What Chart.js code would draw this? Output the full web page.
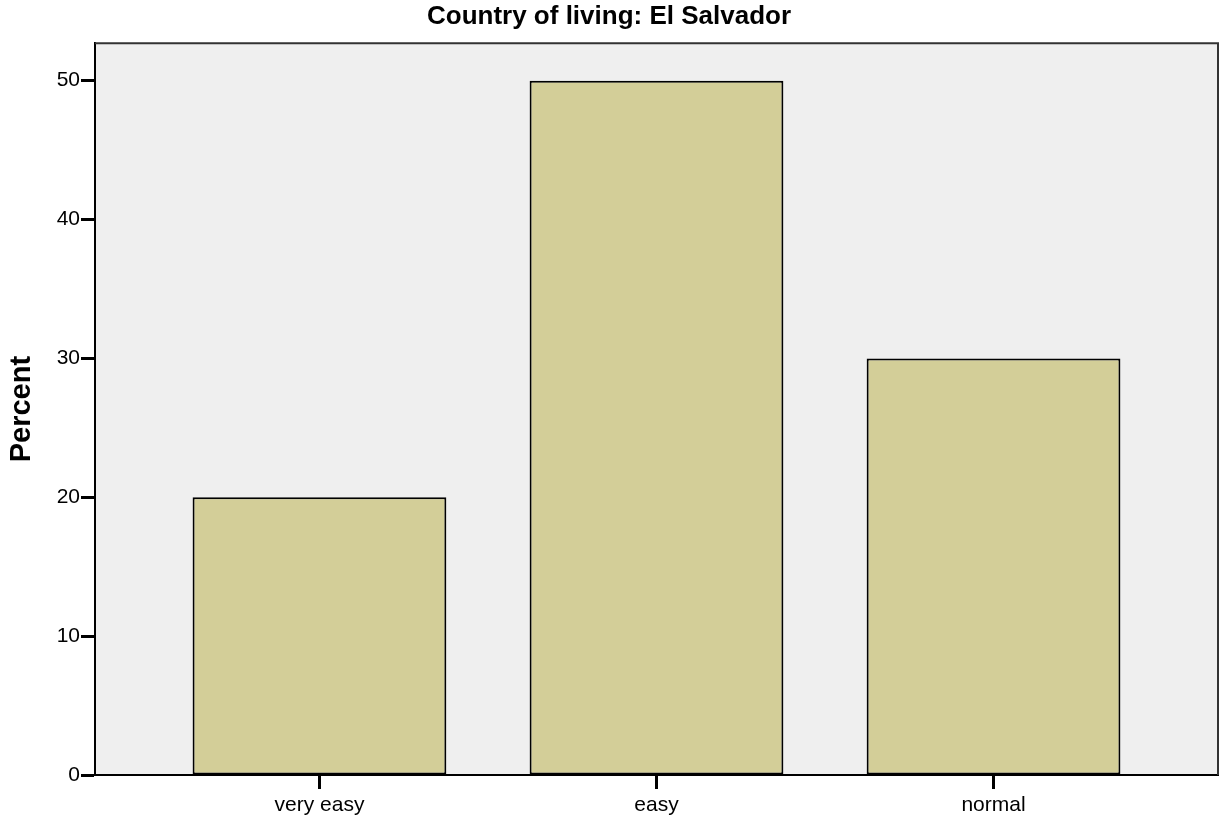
<!DOCTYPE html>
<html>
<head>
<meta charset="utf-8">
<script src="https://cdn.jsdelivr.net/npm/chart.js@4/dist/chart.umd.min.js"></script>
<style>
  html, body { margin: 0; padding: 0; background: #fff; }
  #wrap { width: 1220px; height: 820px; }
</style>
</head>
<body>
<div id="wrap"><canvas id="chart" width="1220" height="820"></canvas></div>
<script>
// Bar chart: percent per answer, El Salvador
const chartTitle = 'Country of living: El Salvador';
const yAxisTitle = 'Percent';
const categories = ['very easy', 'easy', 'normal'];
const percentValues = [20, 50, 30];
const yTickValues = [0, 10, 20, 30, 40, 50];
const yMax = 52.7;

const FONT = '"Liberation Sans", Arial, sans-serif';

// plot background + top/right frame lines
const frame = {
  id: 'frame',
  beforeDraw(chart) {
    const { ctx, chartArea: a } = chart;
    ctx.save();
    ctx.fillStyle = '#efefef';
    ctx.fillRect(a.left, a.top, a.right - a.left, a.bottom - a.top);
    ctx.restore();
  },
  afterDraw(chart) {
    const { ctx, chartArea: a } = chart;
    ctx.save();
    ctx.strokeStyle = '#333';
    ctx.lineWidth = 2;
    ctx.beginPath();
    ctx.moveTo(a.left, a.top);
    ctx.lineTo(a.right, a.top);
    ctx.lineTo(a.right, a.bottom);
    ctx.stroke();
    ctx.restore();
  }
};

new Chart(document.getElementById('chart'), {
  type: 'bar',
  data: {
    datasets: [{
      label: yAxisTitle,
      data: categories.map((c, i) => ({ x: i, y: percentValues[i] })),
      backgroundColor: '#d3ce98',
      borderColor: '#000',
      borderWidth: 2,
      borderSkipped: false,
      categoryPercentage: 1,
      barPercentage: 0.753
    }]
  },
  options: {
    responsive: false,
    animation: false,
    layout: { padding: { left: 0, right: 2, top: 0, bottom: 0 } },
    plugins: {
      legend: { display: false },
      tooltip: { enabled: false },
      title: {
        display: true,
        text: chartTitle,
        color: '#000',
        font: { family: FONT, size: 26, weight: 'bold' },
        padding: { top: 1, bottom: 11 }
      }
    },
    scales: {
      x: {
        type: 'linear',
        offset: false,
        min: -0.666,
        max: 2.666,
        afterBuildTicks: s => { s.ticks = categories.map((c, i) => ({ value: i })); },
        afterFit: s => { s.height = 45; },
        ticks: {
          color: '#000',
          font: { family: FONT, size: 21 },
          padding: 4,
          callback: v => categories[v]
        },
        grid: { offset: false, drawOnChartArea: false, tickLength: 14, tickWidth: 3, tickColor: '#000' },
        border: { display: true, color: '#000', width: 2 }
      },
      y: {
        min: 0,
        max: yMax,
        afterBuildTicks: s => { s.ticks = yTickValues.map(v => ({ value: v })); },
        afterFit: s => { s.width = 95; },
        ticks: {
          color: '#000',
          font: { family: FONT, size: 21 },
          padding: 1
        },
        grid: { drawOnChartArea: false, tickLength: 14, tickWidth: 3, tickColor: '#000' },
        border: { display: true, color: '#000', width: 2 },
        title: {
          display: true,
          text: yAxisTitle,
          color: '#000',
          font: { family: FONT, size: 29, weight: 'bold' },
          padding: { top: 5, bottom: 0 }
        }
      }
    }
  },
  plugins: [frame]
});
</script>
</body>
</html>
